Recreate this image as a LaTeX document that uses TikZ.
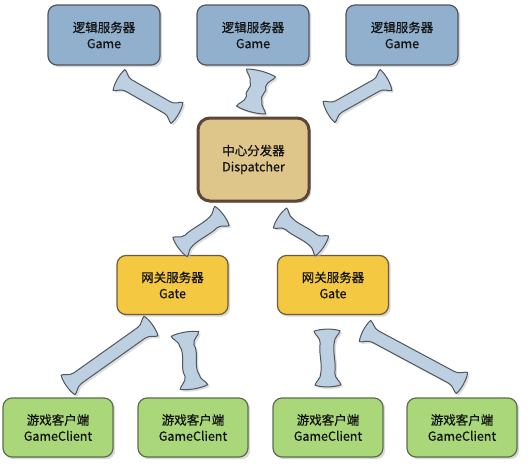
\documentclass[tikz,border=0pt]{standalone}
\usepackage{fontspec}
\setmainfont{Noto Sans CJK SC}[FakeBold=0.6]
\usetikzlibrary{calc,shadows}
\definecolor{gamefill}{HTML}{90B0CE}
\definecolor{gamedraw}{HTML}{55555C}
\definecolor{dispfill}{HTML}{DEC58A}
\definecolor{dispdraw}{HTML}{5B4637}
\definecolor{gatefill}{HTML}{F5C842}
\definecolor{gatedraw}{HTML}{6D5C3D}
\definecolor{clifill}{HTML}{A9D779}
\definecolor{clidraw}{HTML}{5D6E4F}
\definecolor{linkfill}{HTML}{BCD0E1}
\definecolor{linkdraw}{HTML}{50565E}
\definecolor{txt}{HTML}{141414}
\tikzset{
  box/.style={rounded corners=9pt, align=center, text=txt, inner sep=0pt,
    font=\fontsize{12.5}{16}\selectfont,
    drop shadow={shadow xshift=2.2pt, shadow yshift=-2.2pt, fill=black!30, opacity=.5}},
  gamebox/.style={box, fill=gamefill, draw=gamedraw, line width=1.2pt, minimum width=112pt, minimum height=60pt},
  dispbox/.style={box, fill=dispfill, draw=dispdraw, line width=3pt, minimum width=111pt, minimum height=83pt, rounded corners=12pt},
  gatebox/.style={box, fill=gatefill, draw=gatedraw, line width=1.2pt, minimum width=111pt, minimum height=59pt},
  clibox/.style={box, fill=clifill, draw=clidraw, line width=1.2pt, minimum width=110pt, minimum height=59pt},
  link/.style={fill=linkfill, draw=linkdraw, line width=1pt, line join=round,
    drop shadow={shadow xshift=2pt, shadow yshift=-2pt, fill=black!25, opacity=.5}}
}
% #1 A, #2 B, #3 shaft half width, #4 flare half width, #5 flare length, #6 S offset
\newcommand\fatlink[6]{%
  \pgfpointanchor{#1}{center}\pgfgetlastxy\lkax\lkay
  \pgfpointanchor{#2}{center}\pgfgetlastxy\lkbx\lkby
  \pgfmathsetmacro\lkang{atan2(\lkby-\lkay,\lkbx-\lkax)}%
  \pgfmathsetmacro\lkL{veclen(\lkbx-\lkax,\lkby-\lkay)}%
  \pgfmathsetmacro\lkw{#3}\pgfmathsetmacro\lkW{#4}\pgfmathsetmacro\lkf{#5}%
  \pgfmathsetmacro\lkm{0.92*(#4)+0.08*(#3)}%
  \pgfmathsetmacro\lkfa{0.3*(#5)}\pgfmathsetmacro\lkfb{0.5*(#5)}%
  \pgfmathsetmacro\lkLa{\lkL-0.3*(#5)}\pgfmathsetmacro\lkLb{\lkL-0.5*(#5)}%
  \pgfmathsetmacro\lkLf{\lkL-(#5)}%
  \pgfmathsetmacro\lksa{0.38*\lkL}\pgfmathsetmacro\lksb{0.62*\lkL}%
  \pgfmathsetmacro\lkp{(#3)+(#6)}\pgfmathsetmacro\lkq{(#3)-(#6)}%
  \pgfmathsetmacro\lkhW{0.5*(#4)}\pgfmathsetmacro\lkLe{\lkL+2.5}%
  \begin{scope}[shift={(#1)}, rotate=\lkang]
  \filldraw[link]
    (0pt,\lkW pt)
    .. controls (\lkfa pt,\lkm pt) and (\lkfb pt,\lkw pt) .. (\lkf pt,\lkw pt)
    .. controls (\lksa pt,\lkp pt) and (\lksb pt,\lkq pt) .. (\lkLf pt,\lkw pt)
    .. controls (\lkLb pt,\lkw pt) and (\lkLa pt,\lkm pt) .. (\lkL pt,\lkW pt)
    .. controls (\lkLe pt,\lkhW pt) and (\lkLe pt,-\lkhW pt) .. (\lkL pt,-\lkW pt)
    .. controls (\lkLa pt,-\lkm pt) and (\lkLb pt,-\lkw pt) .. (\lkLf pt,-\lkw pt)
    .. controls (\lksb pt,-\lkp pt) and (\lksa pt,-\lkq pt) .. (\lkf pt,-\lkw pt)
    .. controls (\lkfb pt,-\lkw pt) and (\lkfa pt,-\lkm pt) .. (0pt,-\lkW pt)
    .. controls (-2.5pt,-\lkhW pt) and (-2.5pt,\lkhW pt) .. cycle;
  \end{scope}%
}
\begin{document}
\begin{tikzpicture}[x=1pt,y=-1pt]
\useasboundingbox[fill=white] (0,0) rectangle (531,466);
% nodes
\node[gamebox] (g1) at (104,35) {逻辑服务器\\Game};
\node[gamebox] (g2) at (253,35) {逻辑服务器\\Game};
\node[gamebox] (g3) at (402,35) {逻辑服务器\\Game};
\node[dispbox] (d) at (253.5,159.5) {中心分发器\\Dispatcher};
\node[gatebox] (t1) at (172.5,285) {网关服务器\\Gate};
\node[gatebox] (t2) at (333,285) {网关服务器\\Gate};
\node[clibox] (c1) at (58,427.5) {游戏客户端\\GameClient};
\node[clibox] (c2) at (193,427.5) {游戏客户端\\GameClient};
\node[clibox] (c3) at (328,427.5) {游戏客户端\\GameClient};
\node[clibox] (c4) at (462,427.5) {游戏客户端\\GameClient};
% connector ends
\coordinate (l1a) at (119,80);  \coordinate (l1b) at (177,113);
\coordinate (l2a) at (261,73);  \coordinate (l2b) at (251,110);
\coordinate (l3a) at (386,80);  \coordinate (l3b) at (329,112);
\coordinate (l4a) at (222,216); \coordinate (l4b) at (180,247);
\coordinate (l5a) at (280,218); \coordinate (l5b) at (322,246);
\coordinate (l6a) at (151,326); \coordinate (l6b) at (68,385);
\coordinate (l7a) at (185,334); \coordinate (l7b) at (194,387);
\coordinate (l8a) at (327,331); \coordinate (l8b) at (328,385);
\coordinate (l9a) at (365,331); \coordinate (l9b) at (462,383);
% connectors
\fatlink{l1a}{l1b}{6.5}{12}{11}{0}
\fatlink{l2a}{l2b}{8}{15}{12}{4}
\fatlink{l3a}{l3b}{6.5}{12}{11}{0}
\fatlink{l4a}{l4b}{6.5}{12}{11}{1.5}
\fatlink{l5a}{l5b}{6.5}{12}{11}{-1.5}
\fatlink{l6a}{l6b}{6.5}{12}{12}{0}
\fatlink{l7a}{l7b}{7}{14}{12}{4}
\fatlink{l8a}{l8b}{7}{13}{12}{-2}
\fatlink{l9a}{l9b}{6.5}{12}{12}{0}
\end{tikzpicture}
\end{document}
